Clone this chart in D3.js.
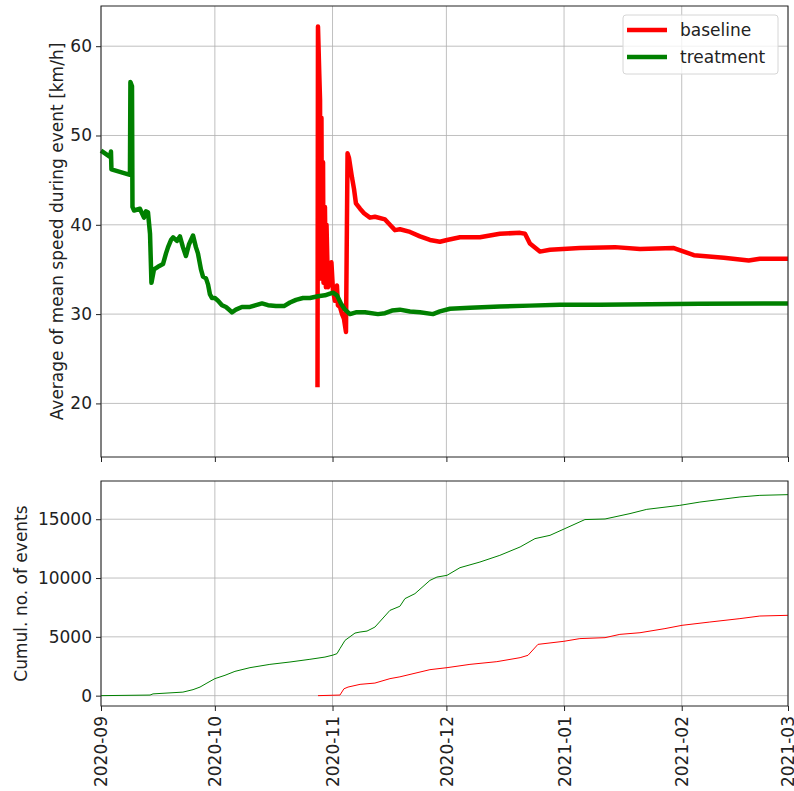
<!DOCTYPE html>
<html>
<head>
<meta charset="utf-8">
<script src="https://cdn.jsdelivr.net/npm/d3@7"></script>
<style>
  body { margin: 0; background: #fff; }
  text { font-family: "DejaVu Sans", sans-serif; }
</style>
</head>
<body>
<script>
// Average of mean speed [km/h], [date, value]
const speedBaseline = [
    ["2020-10-28T01", 21.8], ["2020-10-28T04", 62.2], ["2020-10-28T12", 57.0], ["2020-10-28T17", 54.0],
    ["2020-10-28T20", 34.0], ["2020-10-29T02", 52.0], ["2020-10-29T05", 35.0], ["2020-10-29T12", 47.0],
    ["2020-10-29T15", 33.5], ["2020-10-30T00", 42.0], ["2020-10-30T06", 33.0], ["2020-10-30T10", 40.0],
    ["2020-10-30T19", 33.0], ["2020-10-31T08", 33.5], ["2020-10-31T17", 35.8], ["2020-11-01T03", 32.6],
    ["2020-11-01T15", 31.5], ["2020-11-02T04", 33.2], ["2020-11-02T10", 31.0], ["2020-11-02T23", 30.8],
    ["2020-11-03T12", 30.0], ["2020-11-04T00", 29.5], ["2020-11-04T13", 28.0], ["2020-11-04T23", 48.0],
    ["2020-11-05T08", 47.5], ["2020-11-06T03", 45.3], ["2020-11-06T16", 44.0], ["2020-11-07T04", 42.4],
    ["2020-11-08T06", 41.8], ["2020-11-09T07", 41.3], ["2020-11-10T21", 40.8], ["2020-11-12T04", 40.9],
    ["2020-11-14T20", 40.6], ["2020-11-16T03", 40.0], ["2020-11-17T11", 39.4], ["2020-11-18T18", 39.5],
    ["2020-11-21T10", 39.2], ["2020-11-24T01", 38.7], ["2020-11-26T16", 38.3], ["2020-11-29T07", 38.1],
    ["2020-12-01T04", 38.3], ["2020-12-04T14", 38.6], ["2020-12-09T20", 38.6], ["2020-12-15T02", 39.0],
    ["2020-12-20T10", 39.1], ["2020-12-21T17", 39.0], ["2020-12-23T00", 37.9], ["2020-12-25T15", 37.0],
    ["2020-12-28T07", 37.2], ["2021-01-05T04", 37.4], ["2021-01-14T10", 37.5], ["2021-01-21T00", 37.3],
    ["2021-01-29T22", 37.4], ["2021-02-04T05", 36.6], ["2021-02-12T02", 36.3], ["2021-02-18T16", 36.0],
    ["2021-02-21T14", 36.2], ["2021-03-01T00", 36.2]
];

const speedTreatment = [
    ["2020-09-01T00", 48.3], ["2020-09-03T09", 47.6], ["2020-09-03T15", 48.2], ["2020-09-03T18", 46.2],
    ["2020-09-08T15", 45.6], ["2020-09-08T18", 56.0], ["2020-09-09T04", 55.5], ["2020-09-09T07", 42.0],
    ["2020-09-09T17", 41.6], ["2020-09-11T06", 41.8], ["2020-09-12T08", 40.8], ["2020-09-12T20", 41.5],
    ["2020-09-13T09", 41.4], ["2020-09-13T22", 39.0], ["2020-09-14T07", 33.5], ["2020-09-14T23", 35.0],
    ["2020-09-16T00", 35.3], ["2020-09-17T08", 35.6], ["2020-09-18T03", 36.8], ["2020-09-18T16", 37.5],
    ["2020-09-19T11", 38.3], ["2020-09-20T00", 38.6], ["2020-09-21T00", 38.2], ["2020-09-21T19", 38.7],
    ["2020-09-22T14", 37.5], ["2020-09-23T09", 36.5], ["2020-09-24T04", 37.8], ["2020-09-25T06", 38.8],
    ["2020-09-26T00", 37.5], ["2020-09-26T13", 36.8], ["2020-09-27T08", 35.0], ["2020-09-27T21", 34.2],
    ["2020-09-28T16", 34.0], ["2020-09-29T05", 33.3], ["2020-09-29T17", 32.2], ["2020-09-30T06", 31.8],
    ["2020-10-01T00", 31.8], ["2020-10-01T20", 31.5], ["2020-10-02T21", 31.0], ["2020-10-03T22", 30.8],
    ["2020-10-05T00", 30.4], ["2020-10-05T12", 30.2], ["2020-10-06T13", 30.5], ["2020-10-08T03", 30.8],
    ["2020-10-10T06", 30.8], ["2020-10-11T20", 31.0], ["2020-10-13T10", 31.2], ["2020-10-15T00", 31.0],
    ["2020-10-17T02", 30.9], ["2020-10-19T05", 30.9], ["2020-10-20T19", 31.3], ["2020-10-22T09", 31.6],
    ["2020-10-24T05", 31.8], ["2020-10-26T01", 31.8], ["2020-10-28T04", 32.0], ["2020-10-30T00", 32.1],
    ["2020-10-31T08", 32.3], ["2020-11-01T03", 32.4], ["2020-11-02T04", 32.1], ["2020-11-03T05", 31.2],
    ["2020-11-04T07", 30.5], ["2020-11-05T14", 30.0], ["2020-11-07T04", 30.2], ["2020-11-09T13", 30.2],
    ["2020-11-12T23", 30.0], ["2020-11-14T20", 30.1], ["2020-11-16T16", 30.4], ["2020-11-18T18", 30.5],
    ["2020-11-21T10", 30.3], ["2020-11-24T01", 30.2], ["2020-11-27T11", 30.0], ["2020-11-29T07", 30.3],
    ["2020-12-01T23", 30.6], ["2020-12-07T05", 30.7], ["2020-12-15T02", 30.85], ["2020-12-23T00", 30.95],
    ["2020-12-30T22", 31.05], ["2021-01-10T11", 31.05], ["2021-01-23T15", 31.1], ["2021-02-05T19", 31.15],
    ["2021-03-01T00", 31.2]
];

// Cumulative number of events, [date, value]
const countBaseline = [
    ["2020-10-28T04", 0], ["2020-11-02T23", 50], ["2020-11-04T00", 580], ["2020-11-05T02", 730],
    ["2020-11-08T06", 960], ["2020-11-12T04", 1070], ["2020-11-16T03", 1445], ["2020-11-18T18", 1600],
    ["2020-11-26T16", 2210], ["2020-12-01T04", 2380], ["2020-12-07T05", 2660], ["2020-12-14T07", 2890],
    ["2020-12-20T10", 3230], ["2020-12-22T12", 3430], ["2020-12-25T03", 4360], ["2020-12-31T23", 4620],
    ["2021-01-05T04", 4850], ["2021-01-11T19", 4930], ["2021-01-15T17", 5210], ["2021-01-21T00", 5350],
    ["2021-01-27T14", 5700], ["2021-02-01T02", 5980], ["2021-02-08T10", 6260], ["2021-02-16T08", 6550],
    ["2021-02-21T14", 6770], ["2021-03-01T00", 6830]
];

const countTreatment = [
    ["2020-09-01T00", 0], ["2020-09-13T22", 50], ["2020-09-14T17", 150], ["2020-09-22T14", 300],
    ["2020-09-25T06", 510], ["2020-09-27T02", 730], ["2020-09-28T22", 1070], ["2020-10-01T00", 1445],
    ["2020-10-03T16", 1730], ["2020-10-06T07", 2065], ["2020-10-10T06", 2380], ["2020-10-15T12", 2660],
    ["2020-10-20T19", 2860], ["2020-10-26T01", 3090], ["2020-10-30T00", 3280], ["2020-11-01T03", 3450],
    ["2020-11-02T04", 3570], ["2020-11-02T23", 4000], ["2020-11-04T07", 4700], ["2020-11-06T22", 5320],
    ["2020-11-08T06", 5410], ["2020-11-10T02", 5490], ["2020-11-12T04", 5830], ["2020-11-16T03", 7250],
    ["2020-11-18T18", 7600], ["2020-11-20T02", 8250], ["2020-11-22T17", 8670], ["2020-11-26T16", 9800],
    ["2020-11-28T12", 10080], ["2020-12-01T04", 10230], ["2020-12-04T14", 10880], ["2020-12-09T20", 11360],
    ["2020-12-15T02", 11930], ["2020-12-20T10", 12640], ["2020-12-24T08", 13350], ["2020-12-28T07", 13630],
    ["2021-01-01T05", 14200], ["2021-01-06T12", 14970], ["2021-01-11T19", 15020], ["2021-01-18T09", 15480],
    ["2021-01-22T19", 15840], ["2021-01-31T12", 16180], ["2021-02-05T19", 16460], ["2021-02-16T08", 16890],
    ["2021-02-21T14", 17030], ["2021-03-01T00", 17090]
];

const seriesNames = ["baseline", "treatment"];
const seriesColors = ["#f00", "#008000"];
const speedTicks = [20, 30, 40, 50, 60];
const countTicks = [0, 5000, 10000, 15000];

const width = 794;
const height = 791;

const parse = d3.utcParse("%Y-%m-%dT%H");

const svg = d3.select("body").append("svg")
    .attr("width", width)
    .attr("height", height);

// panel positions (two subplots sharing x)
const left = 101, right = 788;
const top1 = 6, bottom1 = 457;
const top2 = 481, bottom2 = 706;

const x = d3.scaleUtc()
    .domain([parse("2020-09-01T00"), parse("2021-03-01T00")])
    .range([left, right]);

const y1 = d3.scaleLinear().domain([14, 64.5]).range([bottom1, top1]);
const y2 = d3.scaleLinear().domain([-880, 18250]).range([bottom2, top2]);

const monthTicks = x.ticks(d3.utcMonth.every(1));

function panel(y, yTicks, top, bottom, showXLabels) {
    const g = svg.append("g");

    // grid
    g.append("g")
        .selectAll("line")
        .data(monthTicks)
        .join("line")
        .attr("x1", d => x(d)).attr("x2", d => x(d))
        .attr("y1", top).attr("y2", bottom)
        .attr("stroke", "#b0b0b0").attr("stroke-width", 0.8);
    g.append("g")
        .selectAll("line")
        .data(yTicks)
        .join("line")
        .attr("x1", left).attr("x2", right)
        .attr("y1", d => y(d)).attr("y2", d => y(d))
        .attr("stroke", "#b0b0b0").attr("stroke-width", 0.8);

    // y axis
    const ya = g.append("g")
        .attr("transform", `translate(${left},0)`)
        .call(d3.axisLeft(y).tickValues(yTicks).tickSize(5).tickPadding(4).tickFormat(d3.format("d")));
    ya.select(".domain").remove();
    ya.selectAll("text").attr("font-size", 17).attr("fill", "#222");
    ya.selectAll("line").attr("stroke", "#222");

    // x axis
    const xa = g.append("g")
        .attr("transform", `translate(0,${bottom})`)
        .call(d3.axisBottom(x).tickValues(monthTicks).tickSize(5).tickFormat(d3.utcFormat("%Y-%m")));
    xa.select(".domain").remove();
    xa.selectAll("line").attr("stroke", "#222");
    if (showXLabels) {
        xa.selectAll("text")
            .attr("font-size", 17)
            .attr("fill", "#222")
            .attr("transform", "rotate(-90)")
            .attr("text-anchor", "end")
            .attr("x", -10)
            .attr("y", 0)
            .attr("dy", "0.35em");
    } else {
        xa.selectAll("text").remove();
    }
    return g;
}

const g1 = panel(y1, speedTicks, top1, bottom1, false);
const g2 = panel(y2, countTicks, top2, bottom2, true);

// lines
const line1 = d3.line().x(d => x(parse(d[0]))).y(d => y1(d[1]));
const line2 = d3.line().x(d => x(parse(d[0]))).y(d => y2(d[1]));

[speedBaseline, speedTreatment].forEach((s, i) => {
    g1.append("path")
        .datum(s)
        .attr("d", line1)
        .attr("fill", "none")
        .attr("stroke", seriesColors[i])
        .attr("stroke-width", 4.5)
        .attr("stroke-linejoin", "round");
});

[countBaseline, countTreatment].forEach((s, i) => {
    g2.append("path")
        .datum(s)
        .attr("d", line2)
        .attr("fill", "none")
        .attr("stroke", seriesColors[i])
        .attr("stroke-width", 1);
});

// frames
[[top1, bottom1], [top2, bottom2]].forEach(([t, b]) => {
    svg.append("rect")
        .attr("x", left).attr("y", t)
        .attr("width", right - left).attr("height", b - t)
        .attr("fill", "none").attr("stroke", "#222").attr("stroke-width", 1);
});

// axis labels
svg.append("text")
    .attr("transform", `translate(63,${(top1 + bottom1) / 2}) rotate(-90)`)
    .attr("text-anchor", "middle")
    .attr("font-size", 17)
    .attr("fill", "#222")
    .text("Average of mean speed during event [km/h]");

svg.append("text")
    .attr("transform", `translate(27,${(top2 + bottom2) / 2}) rotate(-90)`)
    .attr("text-anchor", "middle")
    .attr("font-size", 17)
    .attr("fill", "#222")
    .text("Cumul. no. of events");

// legend
const lg = svg.append("g").attr("transform", "translate(623,15)");
lg.append("rect")
    .attr("width", 155).attr("height", 59).attr("rx", 3)
    .attr("fill", "#fff").attr("fill-opacity", 0.8)
    .attr("stroke", "#d6d6d6");
seriesNames.forEach((name, i) => {
    const yy = 15 + i * 27;
    lg.append("line")
        .attr("x1", 4).attr("x2", 44)
        .attr("y1", yy).attr("y2", yy)
        .attr("stroke", seriesColors[i]).attr("stroke-width", 4.5);
    lg.append("text")
        .attr("x", 57).attr("y", yy)
        .attr("dy", "0.35em")
        .attr("font-size", 17)
        .attr("fill", "#222")
        .text(name);
});
</script>
</body>
</html>
